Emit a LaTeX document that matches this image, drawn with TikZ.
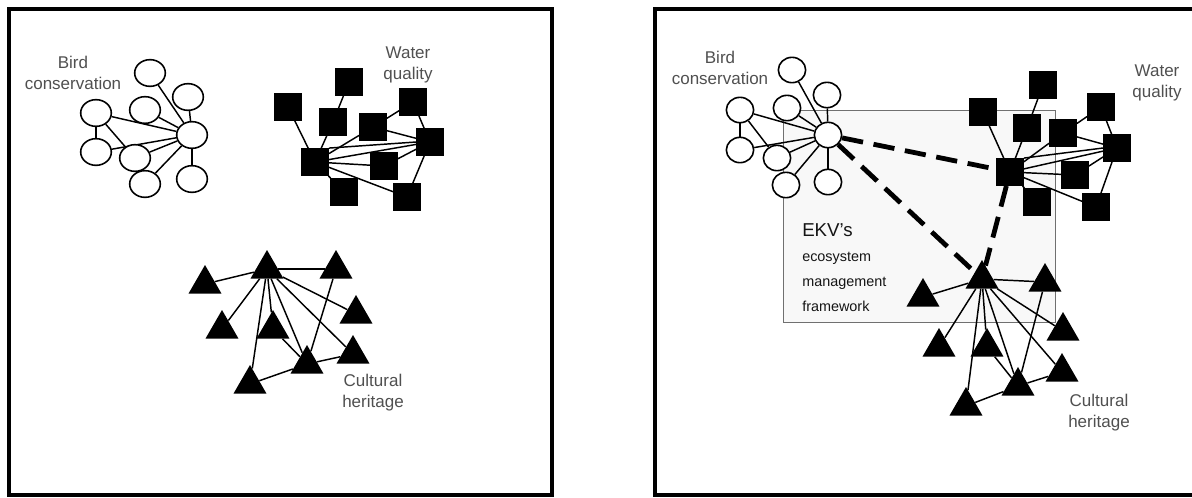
\documentclass[tikz,border=0pt]{standalone}
\usepackage{fontspec}
\setmainfont{Liberation Sans}
\usetikzlibrary{shapes.geometric}
\pgfdeclarelayer{panel}
\pgfdeclarelayer{links}
\pgfsetlayers{panel,links,main}
\definecolor{labelgray}{HTML}{505050}
\definecolor{boxfill}{HTML}{F8F8F8}
\definecolor{boxedge}{HTML}{707070}
\definecolor{ink}{HTML}{151515}
\tikzset{
  frame/.style={draw=black, line width=2.4pt},
  bird/.style={ellipse, draw=black, fill=white, line width=1.2pt, inner sep=0pt,
    minimum width=23pt, minimum height=20pt},
  birdsmall/.style={bird, minimum width=20.5pt, minimum height=19pt},
  water/.style={rectangle, fill=black, inner sep=0pt, minimum size=20.5pt},
  heritage/.style={regular polygon, regular polygon sides=3, fill=black,
    inner sep=0pt, minimum size=28.5pt},
  link/.style={line width=1.1pt, black},
  tie/.style={line width=3.6pt, black, dash pattern=on 16pt off 8pt},
  grouplabel/.style={font=\fontsize{12.75}{15.75}\selectfont, text=labelgray,
    align=center, inner sep=0pt},
  ekvbox/.style={draw=boxedge, fill=boxfill, line width=1.1pt, inner sep=0pt,
    anchor=north west},
  ekvtitle/.style={font=\fontsize{14}{16}\selectfont, text=ink, anchor=base west, inner sep=0pt},
  ekvline/.style={font=\fontsize{10.8}{13}\selectfont, text=ink, anchor=base west, inner sep=0pt},
}
\begin{document}
\begin{tikzpicture}[x=0.75pt,y=-0.75pt]
\useasboundingbox (0,0) rectangle (1192,497);
\begin{pgfonlayer}{panel}
  \fill[white] (0,0) rectangle (1192,497);
\end{pgfonlayer}

% ---------- panel frames ----------
\draw[frame] (9,9) rectangle (552,495);
\draw[frame] (655,9) rectangle (1215,495);

% ================= left panel: separate networks =================
% bird conservation
\node[bird] (lb1) at (150,73) {};
\node[bird] (lb2) at (188,97) {};
\node[bird] (lb3) at (145,110) {};
\node[bird] (lb4) at (96,113) {};
\node[bird] (lbh) at (192,135) {};
\node[bird] (lb5) at (96,152) {};
\node[bird] (lb6) at (135,158) {};
\node[bird] (lb7) at (145,184) {};
\node[bird] (lb8) at (192,179) {};
% water quality
\node[water] (lw1) at (349,82) {};
\node[water] (lw2) at (288,107) {};
\node[water] (lw3) at (333,122) {};
\node[water] (lw4) at (373,127) {};
\node[water] (lw5) at (413,102) {};
\node[water] (lw6) at (430,142) {};
\node[water] (lwh) at (315,162) {};
\node[water] (lw7) at (384,166) {};
\node[water] (lw8) at (344,192) {};
\node[water] (lw9) at (407,197) {};
% cultural heritage
\node[heritage] (lt1) at (205,284) {};
\node[heritage] (lth) at (267,269) {};
\node[heritage] (lt3) at (336,269) {};
\node[heritage] (lt4) at (222,329) {};
\node[heritage] (lt5) at (273,329) {};
\node[heritage] (lt6) at (356,314) {};
\node[heritage] (lt7) at (353,354) {};
\node[heritage] (lt8) at (307,364) {};
\node[heritage] (lt9) at (250,384) {};

\node[grouplabel] (lbird) at (73,72.5) {Bird\\conservation};
\node[grouplabel] (lwater) at (408,64.5) {Water\\quality};
\node[grouplabel] (lheritage) at (373,392.5) {Cultural\\heritage};

\begin{pgfonlayer}{links}
  \foreach \n in {lb1,lb2,lb3,lb4,lb5,lb6,lb7,lb8} \draw[link] (lbh) -- (\n);
  \draw[link] (lb4) -- (lb5);
  \draw[link] (lb4) -- (lb6);
  \foreach \n in {lw2,lw3,lw4,lw6,lw7,lw8,lw9} \draw[link] (lwh) -- (\n);
  \draw[link] (lwh.north east) -- (lw6.west);
  \draw[link] (lw3) -- (lw1);
  \draw[link] (lw4) -- (lw5);
  \draw[link] (lw4) -- (lw6);
  \draw[link] (lw5) -- (lw6);
  \draw[link] (lw7) -- (lw6);
  \draw[link] (lw6) -- (lw9);
  \foreach \n in {lt1,lt3,lt4,lt5,lt6,lt7,lt8,lt9} \draw[link] (lth) -- (\n);
  \draw[link] (lt3) -- (lt8);
  \draw[link] (lt5) -- (lt8);
  \draw[link] (lt8) -- (lt7);
  \draw[link] (lt9) -- (lt8);
\end{pgfonlayer}

% ================= right panel: linked through the framework =================
\begin{pgfonlayer}{panel}
  \node[ekvbox, minimum width=204pt, minimum height=159pt] (ekv) at (783,110) {};
\end{pgfonlayer}
\node[ekvtitle] (ekv1) at (802,236) {EKV's};
\node[ekvline] (ekv2) at (802,261) {ecosystem};
\node[ekvline] (ekv3) at (802,286) {management};
\node[ekvline] (ekv4) at (802,311) {framework};

% bird conservation
\node[birdsmall] (rb1) at (792,70) {};
\node[birdsmall] (rb2) at (827,95) {};
\node[birdsmall] (rb3) at (787,108) {};
\node[birdsmall] (rb4) at (740,110) {};
\node[birdsmall] (rbh) at (828,135) {};
\node[birdsmall] (rb5) at (740,150) {};
\node[birdsmall] (rb6) at (777,158) {};
\node[birdsmall] (rb7) at (786,185) {};
\node[birdsmall] (rb8) at (828,182) {};
% water quality
\node[water] (rw1) at (1043,85) {};
\node[water] (rw2) at (983,112) {};
\node[water] (rw3) at (1027,128) {};
\node[water] (rw4) at (1063,133) {};
\node[water] (rw5) at (1101,107) {};
\node[water] (rw6) at (1117,148) {};
\node[water] (rwh) at (1010,172) {};
\node[water] (rw7) at (1075,175) {};
\node[water] (rw8) at (1037,202) {};
\node[water] (rw9) at (1096,207) {};
% cultural heritage
\node[heritage] (rt1) at (923,297) {};
\node[heritage] (rth) at (982,279) {};
\node[heritage] (rt3) at (1045,282) {};
\node[heritage] (rt4) at (939,347) {};
\node[heritage] (rt5) at (987,347) {};
\node[heritage] (rt6) at (1063,331) {};
\node[heritage] (rt7) at (1062,372) {};
\node[heritage] (rt8) at (1018,386) {};
\node[heritage] (rt9) at (966,406) {};

\node[grouplabel] (rbird) at (720,67.5) {Bird\\conservation};
\node[grouplabel] (rwater) at (1157,82.5) {Water\\quality};
\node[grouplabel] (rheritage) at (1099,413) {Cultural\\heritage};

\begin{pgfonlayer}{links}
  \foreach \n in {rb1,rb2,rb3,rb4,rb5,rb6,rb7,rb8} \draw[link] (rbh) -- (\n);
  \draw[link] (rb4) -- (rb5);
  \draw[link] (rb4) -- (rb6);
  \foreach \n in {rw2,rw3,rw4,rw6,rw7,rw8,rw9} \draw[link] (rwh) -- (\n);
  \draw[link] (rwh.north east) -- (rw6.west);
  \draw[link] (rw3) -- (rw1);
  \draw[link] (rw4) -- (rw5);
  \draw[link] (rw4) -- (rw6);
  \draw[link] (rw5) -- (rw6);
  \draw[link] (rw7) -- (rw6);
  \draw[link] (rw6) -- (rw9);
  \foreach \n in {rt1,rt3,rt4,rt5,rt6,rt7,rt8,rt9} \draw[link] (rth) -- (\n);
  \draw[link] (rt3) -- (rt8);
  \draw[link] (rt5) -- (rt8);
  \draw[link] (rt8) -- (rt7);
  \draw[link] (rt9) -- (rt8);
  % hub-to-hub ties across the framework
  \draw[tie] (rbh) -- (rwh);
  \draw[tie] (rbh) -- (rth);
  \draw[tie] (rwh) -- (rth);
\end{pgfonlayer}
\end{tikzpicture}
\end{document}
